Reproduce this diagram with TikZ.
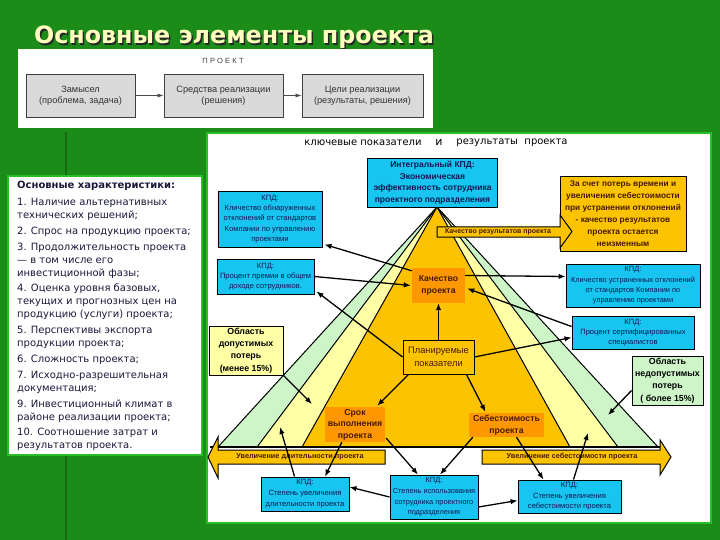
\documentclass[tikz,border=0pt]{standalone}
\usepackage{fontspec}
\setmainfont{DejaVu Sans}
\newfontfamily\ls{Liberation Sans}
\usetikzlibrary{calc,arrows.meta}
\definecolor{bg}{RGB}{28,140,24}
\definecolor{bgbright}{RGB}{40,190,40}
\definecolor{cyanbox}{RGB}{24,196,240}
\definecolor{gold}{RGB}{252,196,0}
\definecolor{orangebox}{RGB}{255,152,0}
\definecolor{paley}{RGB}{255,255,165}
\definecolor{paleg}{RGB}{205,245,200}
\definecolor{navy}{RGB}{16,24,80}
\definecolor{txt}{RGB}{25,25,60}
\definecolor{titley}{RGB}{255,255,190}
\definecolor{brownt}{RGB}{70,25,0}
\definecolor{greybox}{RGB}{218,218,218}
\begin{document}
\begin{tikzpicture}[x=1pt,y=-1pt,
 conn/.style={line width=1.3pt, draw=black, -{Latex[length=7pt,width=5.5pt]}},
 kpd/.style={draw=black, line width=0.9pt, fill=cyanbox, align=center, inner sep=0pt, text=navy, font=\ls\fontsize{7.6}{10.2}\selectfont},
 orbox/.style={fill=orangebox, align=center, inner sep=0pt, text=brownt, font=\ls\bfseries\fontsize{8.7}{11.5}\selectfont},
 areabox/.style={draw=black, line width=0.9pt, align=center, inner sep=0pt, text=black, font=\ls\bfseries\fontsize{8.8}{12.3}\selectfont},
 greyb/.style={draw=black!75, line width=0.8pt, fill=greybox, align=center, inner sep=0pt, text=black!80, font=\ls\fontsize{9.2}{11}\selectfont, minimum height=43pt},
 arrtext/.style={inner sep=0pt, text=brownt, font=\ls\bfseries\fontsize{7.3}{8}\selectfont},
 panel/.style={fill=white, draw=bgbright, line width=2.5pt}
]
\useasboundingbox (0,0) rectangle (720,540);
\fill[bg] (0,0) rectangle (720,540);
\draw[bg!75!black, line width=2pt] (66,132) -- (66,540);

% title
\node[anchor=base west, font=\bfseries\fontsize{23.8}{28}\selectfont, text=black!85] (titleshadow) at (32,45.5) {Основные элементы проекта};
\node[anchor=base west, font=\bfseries\fontsize{23.8}{28}\selectfont, text=titley] (title) at (30.5,44) {Основные элементы проекта};

% project scheme
\fill[white] (18,49) rectangle (433,128);
\node[font={\ls\fontsize{7.5}{9}\selectfont\addfontfeature{LetterSpace=30}}, text=black!75] (proj) at (223,61) {ПРОЕКТ};
\node[greyb, minimum width=109pt] (z1) at (80.5,95.5) {Замысел\\(проблема, задача)};
\node[greyb, minimum width=119pt] (z2) at (223.5,95.5) {Средства реализации\\(решения)};
\node[greyb, minimum width=121pt] (z3) at (362.5,95.5) {Цели реализации\\(результаты, решения)};
\draw[-{Latex[length=6pt,width=4pt]}, black!70, line width=0.6pt] (z1.east) -- (z2.west);
\draw[-{Latex[length=6pt,width=4pt]}, black!70, line width=0.6pt] (z2.east) -- (z3.west);

% left panel
\filldraw[panel] (8,176) rectangle (202,455);
\node[anchor=north west, align=left, inner sep=0pt, text=txt, font=\fontsize{10}{12.9}\selectfont] (chars) at (17,181) {\textbf{Основные характеристики:}\\[4pt]
1. Наличие альтернативных\\технических решений;\\[3pt]
2. Спрос на продукцию проекта;\\[3pt]
3. Продолжительность проекта\\— в том числе его\\инвестиционной фазы;\\[3pt]
4. Оценка уровня базовых,\\текущих и прогнозных цен на\\продукцию (услуги) проекта;\\[3pt]
5. Перспективы экспорта\\продукции проекта;\\[3pt]
6. Сложность проекта;\\[3pt]
7. Исходно-разрешительная\\документация;\\[3pt]
9. Инвестиционный климат в\\районе реализации проекта;\\[3pt]
10. Соотношение затрат и\\результатов проекта.};

% right panel
\filldraw[panel] (207,133) rectangle (711,523);
\node[font=\fontsize{10}{12}\selectfont, text=black, inner sep=0pt] (h1) at (363,143) {ключевые показатели};
\node[font=\fontsize{11}{12}\selectfont, text=black, inner sep=0pt] (h2) at (439,142) {и};
\node[font=\fontsize{10}{12}\selectfont, text=black, inner sep=0pt] (h3) at (512,143) {результаты\ \ проекта};

% pyramid
\coordinate (apex) at (437,207);
\filldraw[fill=paleg, draw=black, line width=1pt] (apex) -- (218,447) -- (658,447) -- cycle;
\filldraw[fill=paley, draw=black, line width=1pt] (apex) -- (257,447) -- (618,447) -- cycle;
\filldraw[fill=gold, draw=black, line width=1pt] (apex) -- (302,447) -- (570,447) -- cycle;
\draw[line width=1.6pt] (210,447) -- (662,447);

% bottom arrows
\filldraw[fill=gold, draw=black, line width=1pt] (385,450) -- (218,450) -- (218,437) -- (208,457) -- (218,478) -- (218,464) -- (385,464) -- cycle;
\node[arrtext] (dur) at (300,457) {Увеличение длительности проекта};
\filldraw[fill=gold, draw=black, line width=1pt] (482,450) -- (660,450) -- (660,440) -- (671,457) -- (660,475) -- (660,464) -- (482,464) -- cycle;
\node[arrtext] (cost) at (572,457) {Увеличение себестоимости проекта};

% top boxes
\node[kpd, minimum width=130pt, minimum height=49pt, font=\ls\bfseries\fontsize{8.5}{11.5}\selectfont] (top) at (432.5,182.5) {Интегральный КПД:\\Экономическая\\эффективность сотрудника\\проектного подразделения};
\node[draw=black, line width=0.9pt, fill=gold, align=center, inner sep=0pt, text=brownt, font=\ls\bfseries\fontsize{8.3}{12}\selectfont, minimum width=126pt, minimum height=75pt] (tr) at (623,213.5) {За счет потерь времени и\\увеличения себестоимости\\при устранении отклонений\\- качество результатов\\проекта остается\\неизменным};
\filldraw[fill=gold, draw=black, line width=1pt] (437,227) -- (560,227) -- (560,215) -- (572,231.5) -- (560,248) -- (560,237) -- (437,237) -- cycle;
\node[arrtext, font=\ls\bfseries\fontsize{7}{8}\selectfont] (qres) at (498,232) {Качество результатов проекта};

% KPD boxes
\node[kpd, minimum width=104pt, minimum height=56pt] (b1) at (270,219) {КПД:\\Кличество обнаруженных\\отклонений от стандартов\\Компании по управлению\\проектами};
\node[kpd, minimum width=97pt, minimum height=35pt] (b2) at (265.5,276.5) {КПД:\\Процент премии в общем\\доходе сотрудников.};
\node[kpd, minimum width=134pt, minimum height=43pt, font=\ls\fontsize{7.4}{10.2}\selectfont] (b3) at (633,285.5) {КПД:\\Кличество устраненных отклонений\\от стандартов Компании по\\управлению проектами};
\node[kpd, minimum width=122pt, minimum height=33pt] (b4) at (633,332.5) {КПД:\\Процент сертифицированных\\специалистов};
\node[kpd, minimum width=88pt, minimum height=34pt, font=\ls\fontsize{7.6}{11}\selectfont] (b5) at (305,494) {КПД:\\Степень увеличения\\длительности проекта};
\node[kpd, minimum width=88pt, minimum height=44pt, font=\ls\fontsize{7.4}{10.8}\selectfont] (b6) at (434,497) {КПД:\\Степень использования\\сотрудника проектного\\подразделения};
\node[kpd, minimum width=103pt, minimum height=33pt, font=\ls\fontsize{7.6}{10.5}\selectfont] (b7) at (569.5,496.5) {КПД:\\Степень увеличения\\себестоимости проекта};

% area boxes
\node[areabox, fill=paley, minimum width=74pt, minimum height=49pt] (obdop) at (246,350.5) {Область\\допустимых\\потерь\\(менее 15\%)};
\node[areabox, fill=paleg, minimum width=71pt, minimum height=49pt] (obnedop) at (667.5,380.5) {Область\\недопустимых\\потерь\\( более 15\%)};

% inner boxes
\node[draw=black, line width=0.9pt, fill=gold, align=center, inner sep=0pt, text=brownt, font=\ls\fontsize{9.3}{12.5}\selectfont, minimum width=71pt, minimum height=34pt] (plan) at (438.5,357) {Планируемые\\показатели};
\node[orbox, minimum width=53pt, minimum height=35pt] (kach) at (438.5,285.5) {Качество\\проекта};
\node[orbox, minimum width=60pt, minimum height=35pt] (srok) at (355,424.5) {Срок\\выполнения\\проекта};
\node[orbox, minimum width=75pt, minimum height=24pt, font=\ls\bfseries\fontsize{8.7}{12}\selectfont] (sebest) at (506.5,425) {Себестоимость\\проекта};

% target points
\coordinate (py1) at (312,404);
\coordinate (gr1) at (608,415);
\coordinate (py2) at (280,427);
\coordinate (py3) at (588,433);

% connectors
\draw[conn] ($(kach.north west)+(0,3)$) -- ($(b1.south east)+(2,-3)$);
\draw[conn] (b2.east) -- ($(kach.west)+(-1,0)$);
\draw[conn] (plan.west) -- ($(b2.south east)+(2,-3)$);
\draw[conn] (plan.north) -- (kach.south);
\draw[conn] ($(plan.south west)+(6,0)$) -- ($(srok.north east)+(-8,-1)$);
\draw[conn] ($(plan.south east)+(-8,0)$) -- ($(sebest.north)+(-21,-1)$);
\draw[conn] (plan.east) -- ($(b4.west)+(0,5)$);
\draw[conn] ($(kach.east)+(0,-10)$) -- ($(b3.west)+(0,-9)$);
\draw[conn] ($(b4.west)+(0,-6)$) -- ($(kach.east)+(2,3)$);
\draw[conn] (obdop.south east) -- (py1);
\draw[conn] ($(obnedop.west)+(0,10)$) -- (gr1);
\draw[conn] ($(srok.south west)+(17,0)$) -- ($(b5.north)+(20,0)$);
\draw[conn] ($(b5.north west)+(34,0)$) -- (py2);
\draw[conn] (b6.west) -- ($(b5.east)+(0,-7)$);
\draw[conn] ($(srok.south east)+(1,-4)$) -- ($(b6.north)+(-16,0)$);
\draw[conn] ($(sebest.south west)+(4,0)$) -- ($(b6.north)+(6,0)$);
\draw[conn] ($(b6.east)+(0,10)$) -- ($(b7.west)+(0,4)$);
\draw[conn] ($(sebest.south)+(10,0)$) -- ($(b7.north)+(-26,0)$);
\draw[conn] ($(b7.north)+(4,0)$) -- (py3);
\end{tikzpicture}
\end{document}
